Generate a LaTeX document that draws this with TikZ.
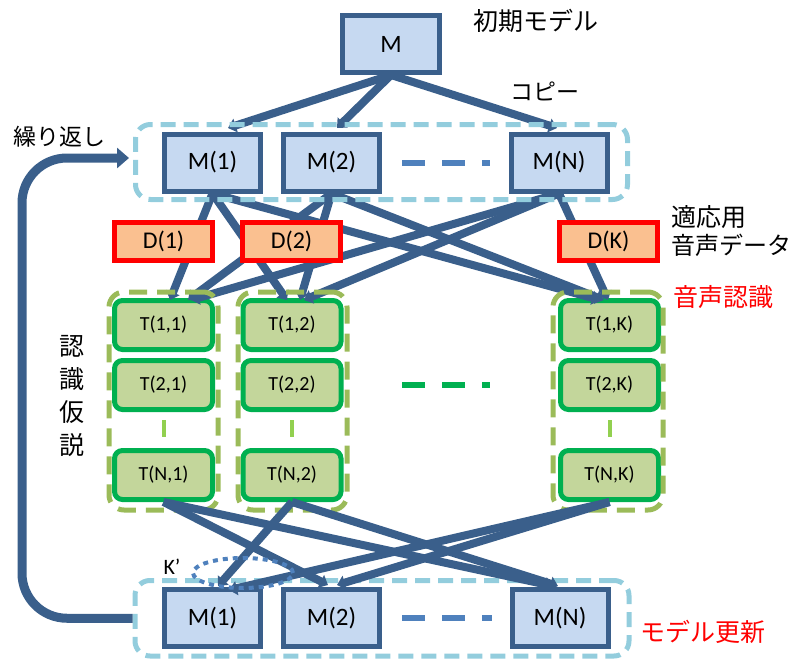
\documentclass[tikz,border=0pt]{standalone}
\usepackage{fontspec}
\setmainfont{Carlito}
\newfontfamily\jp{Noto Sans CJK JP}
\usetikzlibrary{arrows.meta,shapes.geometric}
\definecolor{dkblue}{HTML}{3A5F8B}
\definecolor{boxblue}{HTML}{C6D9F1}
\definecolor{ltblue}{HTML}{93CDDD}
\definecolor{midblue}{HTML}{4F81BD}
\definecolor{tgreen}{HTML}{00B050}
\definecolor{tfill}{HTML}{C3D69B}
\definecolor{olive}{HTML}{9BBB59}
\definecolor{ltgreen}{HTML}{92D050}
\definecolor{dfill}{HTML}{FAC090}
\definecolor{dred}{HTML}{FF0000}
\begin{document}
\begin{tikzpicture}[x=1pt,y=-1pt,
  mbox/.style={draw=dkblue, fill=boxblue, line width=5pt, minimum width=96pt, minimum height=57pt, inner sep=0pt, font=\fontsize{25}{25}\selectfont},
  dbox/.style={draw=dred, fill=dfill, line width=5pt, minimum width=98pt, minimum height=38pt, inner sep=0pt, font=\fontsize{24}{24}\selectfont},
  tbox/.style={draw=tgreen, fill=tfill, line width=5pt, rounded corners=8pt, minimum width=98pt, minimum height=49pt, inner sep=0pt, font=\fontsize{20}{20}\selectfont},
  conn/.style={draw=dkblue, line width=8pt, -{Triangle[length=8pt,width=14pt]}},
  bframe/.style={draw=ltblue, line width=5pt, rounded corners=15pt, dash pattern=on 15pt off 8pt, inner sep=0pt},
  gframe/.style={draw=olive, line width=5pt, rounded corners=15pt, dash pattern=on 18pt off 10pt, inner sep=0pt, minimum width=109pt, minimum height=218pt},
  jptext/.style={font=\jp\fontsize{25}{25}\selectfont, inner sep=0pt, anchor=west},
  dots/.style={line width=6pt, dash pattern=on 23pt off 17pt},
  vdots/.style={draw=ltgreen, line width=4pt},
]
\useasboundingbox (0,0) rectangle (796,659);

% model boxes
\node[mbox, minimum width=97pt] (m) at (391,44) {M};
\node[mbox] (m1) at (212.5,162.5) {M(1)};
\node[mbox] (m2) at (331.5,162.5) {M(2)};
\node[mbox] (mN) at (559,162.5) {M(N)};

% recognition hypotheses
\node[tbox] (t11) at (163.5,325) {T(1,1)};
\node[tbox] (t21) at (163.5,385) {T(2,1)};
\node[tbox] (tN1) at (163.5,475) {T(N,1)};
\node[tbox] (t12) at (292,325) {T(1,2)};
\node[tbox] (t22) at (292,385) {T(2,2)};
\node[tbox] (tN2) at (292,475) {T(N,2)};
\node[tbox] (t1K) at (609.5,325) {T(1,K)};
\node[tbox] (t2K) at (609.5,385) {T(2,K)};
\node[tbox] (tNK) at (609.5,475) {T(N,K)};

% bottom models
\node[mbox] (mb1) at (212.5,618) {M(1)};
\node[mbox] (mb2) at (331.5,618) {M(2)};
\node[mbox] (mbN) at (560,618) {M(N)};

% copy arrows
\draw[conn] (m.south) -- ([shift={(15.5pt,3.5pt)}]m1.north);
\draw[conn] (m.south) -- ([shift={(5.5pt,3.5pt)}]m2.north);
\draw[conn] (m.south) -- ([shift={(-2pt,3.5pt)}]mN.north);

% recognition arrows
\draw[conn] (m1.south) -- ([shift={(6.5pt,-2pt)}]t11.north);
\draw[conn] (m2.south) -- ([shift={(24.5pt,-2pt)}]t11.north);
\draw[conn] (mN.south) -- ([shift={(27.5pt,-2pt)}]t11.north);
\draw[conn] (m1.south) -- ([shift={(-5pt,-2pt)}]t12.north);
\draw[conn] (m2.south) -- ([shift={(8pt,-2pt)}]t12.north);
\draw[conn] (mN.south) -- ([shift={(12pt,-2pt)}]t12.north);
\draw[conn] (m1.south) -- ([shift={(-9.5pt,-2pt)}]t1K.north);
\draw[conn] (m2.south) -- ([shift={(-5.5pt,-2pt)}]t1K.north);
\draw[conn] (mN.south) -- ([shift={(-1.5pt,-2pt)}]t1K.north);

% data boxes
\node[dbox] (d1) at (163.5,241.5) {D(1)};
\node[dbox] (d2) at (291.5,241.5) {D(2)};
\node[dbox] (dK) at (608.5,241.5) {D(K)};

% frames
\node[bframe, minimum width=492pt, minimum height=75pt] (topgrp) at (381.5,162) {};
\node[bframe, minimum width=494pt, minimum height=75.5pt] (botgrp) at (382,618.25) {};
\node[gframe] (col1) at (163.5,401) {};
\node[gframe] (col2) at (292.5,401) {};
\node[gframe, minimum width=110pt] (colK) at (608,401) {};

% update arrows
\draw[conn] (tN2.south) -- ([shift={(5.5pt,1pt)}]mb1.north);
\draw[conn] (tNK.south) -- ([shift={(16.5pt,-3pt)}]mb1.north);
\draw[conn] (tN1.south) -- ([shift={(-3.5pt,2pt)}]mb2.north);
\draw[conn] (tNK.south) -- ([shift={(5.5pt,2pt)}]mb2.north);
\draw[conn] (tN1.south) -- ([shift={(-7pt,1pt)}]mbN.north);
\draw[conn] (tN2.south) -- ([shift={(-2pt,1pt)}]mbN.north);

% ellipsis dashes
\draw[midblue, dots] ([xshift=20pt]m2.east) -- ([xshift=-18.5pt]mN.west);
\draw[midblue, dots] ([xshift=20pt]mb2.east) -- ([xshift=-18pt]mbN.west);
\draw[tgreen, dots] ([xshift=58.5pt]t22.east) -- ([xshift=-68pt]t2K.west);
\draw[vdots] ([yshift=-8pt]t21.south) -- ([yshift=-25pt]t21.south);
\draw[vdots] ([yshift=-8pt]t22.south) -- ([yshift=-25pt]t22.south);
\draw[vdots] ([yshift=-8pt]t2K.south) -- ([yshift=-25pt]t2K.south);

% K' ellipse
\node[draw=midblue, line width=4pt, dash pattern=on 5pt off 5pt, ellipse, minimum width=100pt, minimum height=30pt, inner sep=0pt] (kell) at (243,573) {};
\node[font=\fontsize{22}{22}\selectfont, inner sep=0pt] (kp) at (172,567) {K’};

% loop arrow
\coordinate (lp) at (22,400);
\draw[draw=dkblue, line width=9pt, rounded corners=45pt, -{Triangle[length=12pt,width=20pt]}]
  (botgrp.west) -| (lp) |- ([shift={(-4pt,4pt)}]topgrp.west);

% texts
\node[jptext] (l1) at (473,21) {初期モデル};
\node[jptext, font=\jp\fontsize{23}{23}\selectfont] (l2) at (510,91) {コピー};
\node[jptext, font=\jp\fontsize{23}{23}\selectfont] (l3) at (13,137) {繰り返し};
\node[jptext] (l4) at (671,217) {適応用};
\node[jptext, font=\jp\fontsize{24}{24}\selectfont] (l5) at (671,245) {音声データ};
\node[jptext, text=dred] (l6) at (673,297) {音声認識};
\node[jptext, text=dred] (l7) at (640,632) {モデル更新};
\node[font=\jp\fontsize{25}{33}\selectfont, align=center, inner sep=0pt] (l8) at (72,396) {認\\識\\仮\\説};
\end{tikzpicture}
\end{document}
